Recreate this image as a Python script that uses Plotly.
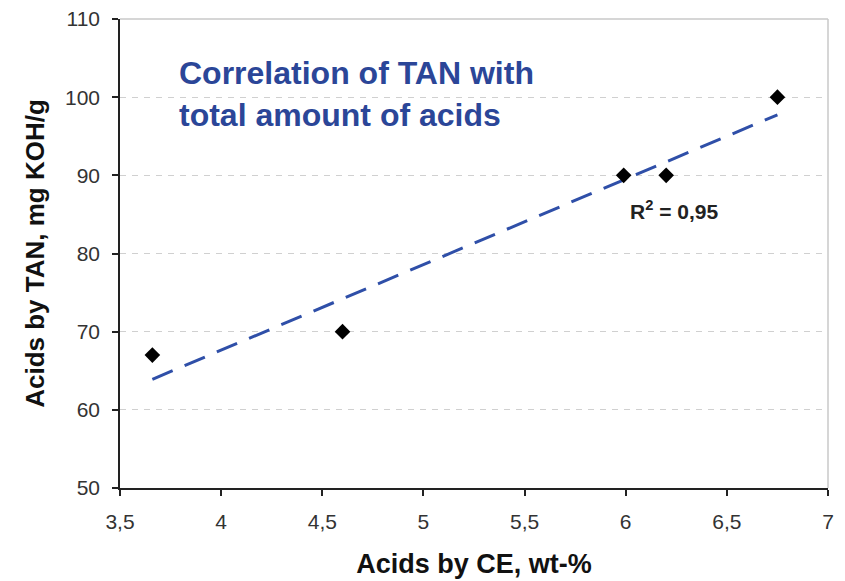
import numpy as np
import plotly.graph_objects as go

# Data
acids_ce = [3.66, 4.60, 5.99, 6.20, 6.75]
acids_tan = [67, 70, 90, 90, 100]
x_tick_vals = [3.5, 4, 4.5, 5, 5.5, 6, 6.5, 7]
x_tick_text = ["3,5", "4", "4,5", "5", "5,5", "6", "6,5", "7"]
y_tick_vals = [50, 60, 70, 80, 90, 100, 110]
r2_label = "R<sup>2</sup> = 0,95"
title_text = "Correlation of TAN with<br>total amount of acids"

# Linear trend line
slope, intercept = np.polyfit(acids_ce, acids_tan, 1)
tx = np.array([min(acids_ce), max(acids_ce)])
ty = slope * tx + intercept

fig = go.Figure()
fig.add_trace(go.Scatter(
    x=tx, y=ty, mode="lines",
    line=dict(color="#2f4fa8", width=3, dash="22px,13px"),
    hoverinfo="skip", showlegend=False,
))
fig.add_trace(go.Scatter(
    x=acids_ce, y=acids_tan, mode="markers",
    marker=dict(symbol="diamond", size=12, color="#000000"),
    showlegend=False,
))

font_main = "Liberation Sans, Arial, sans-serif"

fig.update_layout(
    width=845, height=581,
    margin=dict(l=120, r=17, t=19, b=93),
    plot_bgcolor="white", paper_bgcolor="white",
    font=dict(family=font_main, color="#222"),
    xaxis=dict(
        range=[3.5, 7], tickvals=x_tick_vals, ticktext=x_tick_text,
        showgrid=False, zeroline=False, automargin=False,
        showline=True, linecolor="#222", linewidth=1.5,
        ticks="outside", ticklen=6, tickcolor="#222", tickwidth=1.5,
        tickfont=dict(size=21, color="#333"),
        ticklabelstandoff=8,
        title=dict(text="<b>Acids by CE, wt-%</b>", font=dict(size=27, color="#111"), standoff=22),
    ),
    yaxis=dict(
        range=[50, 110], tickvals=y_tick_vals,
        showgrid=True, gridcolor="#d0d0d0", griddash="6px,6px", gridwidth=1,
        zeroline=False, automargin=False,
        showline=True, linecolor="#222", linewidth=1.5,
        ticks="outside", ticklen=6, tickcolor="#222", tickwidth=1.5,
        tickfont=dict(size=21, color="#333"),
        ticklabelstandoff=8,
        title=dict(text="<b>Acids by TAN, mg KOH/g</b>", font=dict(size=26, color="#111"), standoff=13),
    ),
    shapes=[
        dict(type="line", xref="paper", yref="paper", x0=0, x1=1, y0=1, y1=1,
             line=dict(color="#c8c8c8", width=1.5)),
        dict(type="line", xref="paper", yref="paper", x0=1, x1=1, y0=0, y1=1,
             line=dict(color="#c8c8c8", width=1.5)),
    ],
    annotations=[
        dict(text="<b>" + title_text + "</b>", xref="paper", yref="paper",
             x=0.0805, y=0.9275, xanchor="left", yanchor="top", align="left",
             showarrow=False,
             font=dict(family=font_main, size=32, color="#2b4698")),
        dict(text="<b>" + r2_label + "</b>", xref="x", yref="y",
             x=6.24, y=85.6, xanchor="center", yanchor="middle",
             showarrow=False, font=dict(size=21, color="#222")),
    ],
)

fig.write_html("out.html")
